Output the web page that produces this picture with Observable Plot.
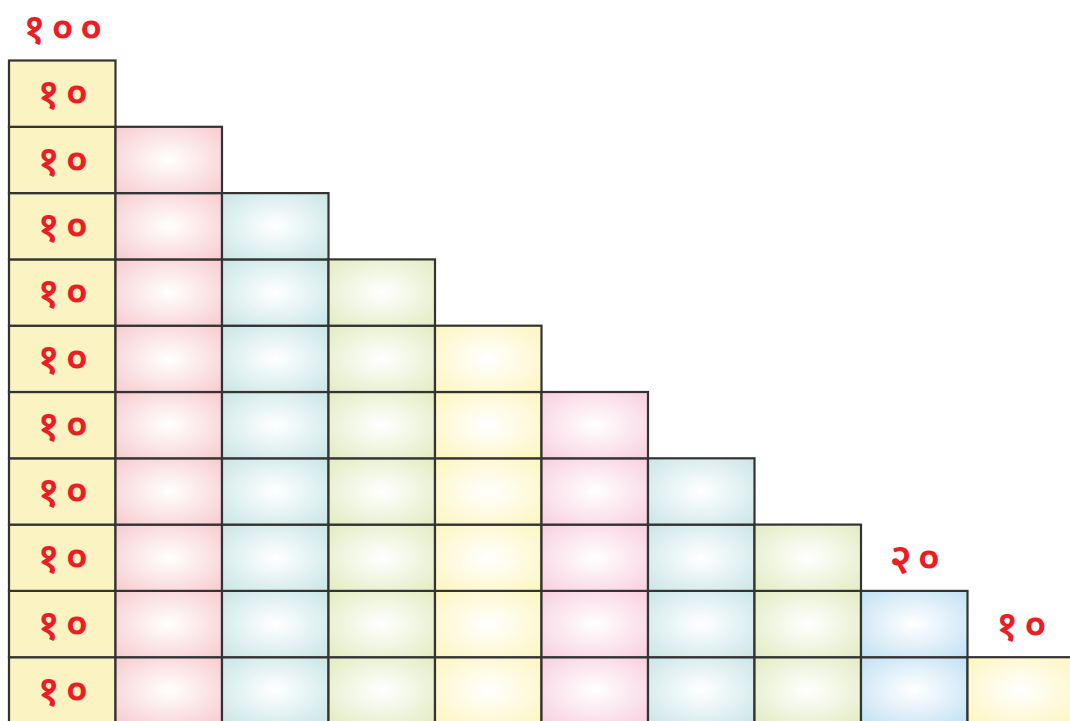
<!DOCTYPE html>
<html>
<head>
<meta charset="utf-8">
<script src="https://cdn.jsdelivr.net/npm/d3@7"></script>
<script src="https://cdn.jsdelivr.net/npm/@observablehq/plot@0.6"></script>
<style>
  html, body { margin: 0; padding: 0; background: #fff; }
  #chart svg { display: block; }
</style>
</head>
<body>
<div id="chart"></div>
<script>
// Columns of the staircase: number of cells stacked in each column
const columns = [1, 2, 3, 4, 5, 6, 7, 8, 9, 10];
const cellCounts = [10, 9, 8, 7, 6, 5, 4, 3, 2, 1];
// Edge colours of each column's cells (centre fades to white)
const edgeColors = ["#fcf3c2", "#f8cfd1", "#cde7e7", "#e4edc6", "#fdf6c4",
                    "#f9d2e1", "#cfe7e8", "#e4edc7", "#c6e3f4", "#fdf6c4"];
const centerColors = ["#fcf3c2", "#ffffff", "#ffffff", "#ffffff", "#ffffff",
                      "#ffffff", "#ffffff", "#ffffff", "#ffffff", "#ffffff"];
// Total labels above columns (null = no label)
const topLabels = ["१००", null, null, null, null, null, null, null, "२०", "१०"];
// Value written in each cell of the first column
const cellLabel = "१०";
const labelledColumn = 1;

const cells = columns.flatMap((c, i) =>
  d3.range(cellCounts[i]).map(r => ({col: c, row: r})));
const tops = columns.map((c, i) => ({col: c, count: cellCounts[i], label: topLabels[i]}))
  .filter(d => d.label);
const cellTexts = cells.filter(d => d.col === labelledColumn).map(d => ({...d, label: cellLabel}));

const font = "'Noto Sans Devanagari', 'Lohit Devanagari', 'Noto Sans', sans-serif";

const chart = Plot.plot({
  width: 1070,
  height: 721,
  margin: 0,
  x: {domain: [0, 10], range: [9, 1074], axis: null},
  y: {domain: [0, 10], range: [723.5, 60.5], axis: null},
  marks: [
    ...columns.map(c => Plot.rect(cells.filter(d => d.col === c), {
      x1: d => d.col - 1, x2: d => d.col,
      y1: d => d.row, y2: d => d.row + 1,
      fill: `url(#cellgrad${c})`,
      stroke: "#333333", strokeWidth: 2.2
    })),
    Plot.text(cellTexts, {
      x: d => d.col - 0.5, y: d => d.row + 0.5,
      text: "label", fill: "#ee1c24", fontSize: 41, fontWeight: 600, fontFamily: font,
      dy: 1, dx: 3
    }),
    Plot.text(tops, {
      x: d => d.col - 0.5, y: d => d.count + 0.47,
      text: "label", fill: "#ee1c24", fontSize: 41, fontWeight: 600, fontFamily: font,
      dx: 3
    })
  ]
});

// gradient definitions
const svg = d3.select(chart);
const defs = svg.insert("defs", ":first-child");
columns.forEach((c, i) => {
  const g = defs.append("radialGradient")
    .attr("id", `cellgrad${c}`)
    .attr("cx", "50%").attr("cy", "50%").attr("r", "65%");
  g.append("stop").attr("offset", "0%").attr("stop-color", centerColors[i]);
  g.append("stop").attr("offset", "100%").attr("stop-color", edgeColors[i]);
});
svg.selectAll("text").style("letter-spacing", "6px");

document.getElementById("chart").appendChild(chart);
</script>
</body>
</html>
